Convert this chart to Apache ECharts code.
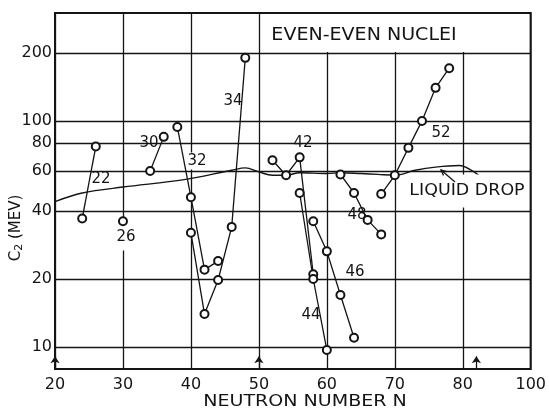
<!DOCTYPE html>
<html><head><meta charset="utf-8">
<script src="https://cdn.jsdelivr.net/npm/echarts@6/dist/echarts.min.js"></script>
<style>html,body{margin:0;padding:0;background:#fff}#c{width:549px;height:410px}</style>
</head><body><div id="c"></div>
<script>
// ---- tick labels / reference values ----
const xTickLabels = ['20','30','40','50','60','70','80','100'];
const yTickValues = [10, 20, 40, 60, 80, 100, 200];
const magicN = [20, 50, 82];

// ---- series (neutron number N, C2 in MeV), labelled by proton number Z ----
const n22 = [24, 26];                 const c22 = [37, 77];
const n26 = [30];                     const c26 = [36];
const n30 = [34, 36];                 const c30 = [60, 85];
const n32 = [38, 40, 42, 44];         const c32 = [94, 46, 22, 24];
const n34 = [40, 42, 44, 46, 48];     const c34 = [32, 14, 19.8, 34, 190];
const n42 = [52, 54, 56, 58];         const c42 = [67, 57.5, 69, 21];
const n44 = [56, 58, 60];             const c44 = [48, 20, 9.7];
const n46 = [58, 60, 62, 64];         const c46 = [36, 26.5, 17, 11];
const n48 = [62, 64, 66, 68];         const c48 = [58, 48, 36.5, 31.5];
const n52 = [68, 70, 72, 74, 76, 78]; const c52 = [47.5, 57.5, 76, 100, 140, 171];

// ---- liquid drop curve ----
const liquidN = [20, 24, 30, 39, 46, 48, 50, 52, 54, 56, 60, 62, 65, 67.5, 70, 73, 76, 79.5, 81.3, 82.5];
const liquidC = [44, 48, 51, 55, 60.5, 62, 59.5, 57.5, 57.5, 59, 58.5, 59, 58.5, 58, 57.5, 60.5, 62.5, 63.5, 60.5, 57];

const FONT = 'DejaVu Sans';
const INK = '#141414';
const pairs = (n, c) => n.map((v, i) => [v, c[i]]);

const groups = [
  {name: '22', n: n22, c: c22}, {name: '26', n: n26, c: c26}, {name: '30', n: n30, c: c30},
  {name: '32', n: n32, c: c32}, {name: '34', n: n34, c: c34}, {name: '42', n: n42, c: c42},
  {name: '44', n: n44, c: c44}, {name: '46', n: n46, c: c46}, {name: '48', n: n48, c: c48},
  {name: '52', n: n52, c: c52}
];

const series = groups.map(g => ({
  type: 'line', name: g.name, data: pairs(g.n, g.c),
  symbol: 'emptyCircle', symbolSize: 8, showSymbol: true,
  lineStyle: {color: INK, width: 1.3},
  itemStyle: {color: INK, borderColor: INK, borderWidth: 1.2},
  z: 5, silent: true, animation: false
}));

series.push({
  type: 'line', name: 'LIQUID DROP', data: pairs(liquidN, liquidC),
  smooth: 0.35, symbol: 'none', showSymbol: false,
  lineStyle: {color: INK, width: 1.4}, z: 3, silent: true, animation: false,
  markLine: {
    silent: true, animation: false, symbol: 'none',
    lineStyle: {color: INK, width: 1.3, type: 'solid'},
    label: {show: true, position: 'start', distance: 3, color: INK, fontSize: 16, fontFamily: FONT,
            formatter: p => (p.data && p.data.yAxis !== undefined) ? String(p.data.yAxis) : ''},
    emphasis: {disabled: true},
    data: yTickValues.map(v => ({yAxis: v})).concat(
      magicN.map(n => [
        {coord: [n, 8], symbol: 'none', label: {show: false}},
        {coord: [n, 9.1], symbol: 'arrow', symbolSize: 7, label: {show: false}}
      ]))
  }
});

// annotation labels (text), drawn over the grid but under the data marks
const tag = (text, x, y, pad) => ({
  type: 'text', x: x, y: y, z: 4, silent: true,
  style: {text: text, fontSize: 15, fontFamily: FONT, fill: INK,
          align: 'center', verticalAlign: 'middle', textAlign: 'center', textVerticalAlign: 'middle',
          backgroundColor: '#fff', padding: pad || [1, 2]}
});

const graphics = [
  {type: 'rect', shape: {x: 265, y: 14, width: 204, height: 38}, style: {fill: '#fff'}, z: 4, silent: true},
  {type: 'text', x: 364, y: 35.5, z: 4, scaleX: 1.12, silent: true,
   style: {text: 'EVEN-EVEN NUCLEI', fontSize: 17, fontFamily: FONT, fill: INK,
           align: 'center', verticalAlign: 'middle', textAlign: 'center', textVerticalAlign: 'middle'}},
  tag('22', 101, 179),
  tag('26', 126, 237, [2, 3, 10, 3]),
  tag('30', 149, 143),
  tag('32', 197, 161),
  tag('34', 233, 101),
  tag('42', 303, 143, [1, 9]),
  tag('44', 311, 315),
  tag('46', 355, 272, [1, 8]),
  tag('48', 357, 215),
  tag('52', 441, 133),
  {type: 'text', x: 467, y: 191, z: 4, scaleX: 1.09, silent: true,
   style: {text: 'LIQUID DROP', fontSize: 16, fontFamily: FONT, fill: INK,
           align: 'center', verticalAlign: 'middle', textAlign: 'center', textVerticalAlign: 'middle',
           backgroundColor: '#fff', padding: [5, 3, 12, 3]}},
  {type: 'polyline', z: 21, silent: true, shape: {points: [[441, 170], [455, 182]]},
   style: {stroke: INK, lineWidth: 1.3, fill: null}},
  {type: 'polyline', z: 21, silent: true, shape: {points: [[443.5, 175.5], [441, 170], [446.8, 171.6]]},
   style: {stroke: INK, lineWidth: 1.3, fill: null}},
  {type: 'text', x: 305, y: 402, z: 20, scaleX: 1.19, silent: true,
   style: {text: 'NEUTRON NUMBER N', fontSize: 16, fontFamily: FONT, fill: INK,
           align: 'center', verticalAlign: 'middle', textAlign: 'center', textVerticalAlign: 'middle'}},
  {type: 'text', x: 16, y: 228, z: 20, rotation: Math.PI / 2, silent: true,
   style: {text: '{a|C}{b|2}{a| (MEV)}', align: 'center', verticalAlign: 'middle',
           textAlign: 'center', textVerticalAlign: 'middle', fill: INK,
           rich: {a: {fontSize: 15, fontFamily: FONT, fill: INK},
                  b: {fontSize: 11, fontFamily: FONT, fill: INK, verticalAlign: 'bottom', padding: [7, 0, 0, 0]}}}}
];

const chart = echarts.init(document.getElementById('c'), null, {renderer: 'canvas'});
chart.setOption({
  animation: false,
  backgroundColor: '#fff',
  grid: {left: 55, right: 9, top: 13, bottom: 41, show: true, borderColor: INK, borderWidth: 2, backgroundColor: 'transparent'},
  xAxis: {
    type: 'value', min: 20, max: 90, interval: 10,
    axisLine: {show: false}, axisTick: {show: false},
    splitLine: {show: true, lineStyle: {color: INK, width: 1.3}},
    axisLabel: {color: INK, fontSize: 16, fontFamily: FONT, margin: 8,
                formatter: v => xTickLabels[Math.round((v - 20) / 10)]}
  },
  yAxis: {
    type: 'log', logBase: 10, min: 8, max: 300,
    axisLine: {show: false}, axisTick: {show: false}, axisLabel: {show: false},
    splitLine: {show: false}
  },
  series: series,
  graphic: {elements: graphics}
});
</script>
</body></html>
